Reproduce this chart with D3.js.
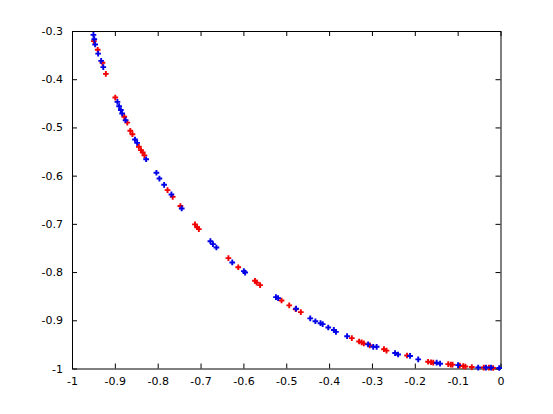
<!DOCTYPE html>
<html>
<head>
<meta charset="utf-8">
<script src="https://cdn.jsdelivr.net/npm/d3@7"></script>
<style>
  body { margin: 0; background: #fff; }
  svg { display: block; }
  text { font-family: "DejaVu Sans", sans-serif; font-size: 10px; fill: #000; }
</style>
</head>
<body>
<div id="chart"></div>
<script>
// values
var redX = [-0.949,-0.940,-0.929,-0.921,-0.899,-0.878,-0.871,-0.864,-0.859,-0.844,-0.839,-0.835,-0.831,
  -0.777,-0.765,-0.747,-0.713,-0.708,-0.704,-0.635,-0.612,-0.573,-0.569,-0.561,-0.511,-0.493,-0.478,-0.466,
  -0.347,-0.330,-0.324,-0.319,-0.305,-0.272,-0.266,-0.218,-0.169,-0.162,-0.157,-0.122,-0.116,-0.112,
  -0.095,-0.087,-0.082,-0.067,-0.039,-0.027,-0.017];
var redY = [-0.321,-0.339,-0.366,-0.389,-0.438,-0.478,-0.490,-0.507,-0.514,-0.540,-0.547,-0.552,-0.558,
  -0.630,-0.644,-0.663,-0.701,-0.707,-0.711,-0.771,-0.790,-0.818,-0.822,-0.827,-0.859,-0.869,-0.877,-0.883,
  -0.937,-0.944,-0.946,-0.948,-0.952,-0.960,-0.963,-0.973,-0.986,-0.987,-0.988,-0.991,-0.992,-0.992,
  -0.994,-0.995,-0.996,-0.997,-0.998,-0.998,-0.999];

var blueX = [-0.950,-0.948,-0.946,-0.939,-0.932,-0.927,-0.894,-0.890,-0.886,-0.883,-0.875,-0.853,-0.848,
  -0.827,-0.803,-0.796,-0.785,-0.768,-0.744,-0.677,-0.671,-0.663,-0.626,-0.599,-0.596,-0.524,-0.519,
  -0.477,-0.444,-0.432,-0.420,-0.415,-0.402,-0.389,-0.384,-0.358,-0.309,-0.297,-0.289,-0.246,-0.239,
  -0.211,-0.192,-0.149,-0.141,-0.099,-0.052,-0.034,-0.022,-0.003];
var blueY = [-0.308,-0.317,-0.328,-0.347,-0.362,-0.375,-0.447,-0.456,-0.464,-0.471,-0.485,-0.525,-0.532,
  -0.566,-0.594,-0.606,-0.619,-0.639,-0.668,-0.736,-0.742,-0.749,-0.780,-0.798,-0.801,-0.852,-0.854,
  -0.876,-0.896,-0.902,-0.906,-0.908,-0.915,-0.920,-0.924,-0.933,-0.950,-0.955,-0.955,-0.968,-0.971,
  -0.974,-0.981,-0.988,-0.990,-0.993,-0.998,-0.998,-0.998,-0.999];

var xTicks = [-1,-0.9,-0.8,-0.7,-0.6,-0.5,-0.4,-0.3,-0.2,-0.1,0];
var xTickLabels = ["-1","-0.9","-0.8","-0.7","-0.6","-0.5","-0.4","-0.3","-0.2","-0.1","0"];
var yTicks = [-1,-0.9,-0.8,-0.7,-0.6,-0.5,-0.4,-0.3];
var yTickLabels = ["-1","-0.9","-0.8","-0.7","-0.6","-0.5","-0.4","-0.3"];

var w = 553, h = 414;
// plot box (top/left are taken names on window, so use own ones)
var boxL = 72, boxR = 500.5, boxT = 31, boxB = 368.5;

var svg = d3.select("#chart").append("svg")
  .attr("width", w)
  .attr("height", h);

var x = d3.scaleLinear().domain([-1, 0]).range([boxL, boxR]);
var y = d3.scaleLinear().domain([-1, -0.3]).range([boxB, boxT]);

// axes, ticks pointing inward like matlab
svg.append("g").attr("transform", "translate(0," + boxB + ")")
  .call(d3.axisBottom(x).tickValues(xTicks).tickSizeInner(-5).tickSizeOuter(0)
    .tickFormat((d, i) => xTickLabels[i]).tickPadding(9));
svg.append("g").attr("transform", "translate(0," + boxT + ")")
  .call(d3.axisTop(x).tickValues(xTicks).tickSizeInner(-5).tickSizeOuter(0).tickFormat(""));
svg.append("g").attr("transform", "translate(" + boxL + ",0)")
  .call(d3.axisLeft(y).tickValues(yTicks).tickSizeInner(-5).tickSizeOuter(0)
    .tickFormat((d, i) => yTickLabels[i]).tickPadding(9));
svg.append("g").attr("transform", "translate(" + boxR + ",0)")
  .call(d3.axisRight(y).tickValues(yTicks).tickSizeInner(-5).tickSizeOuter(0).tickFormat(""));

svg.selectAll(".domain").attr("stroke", "#000");
svg.selectAll(".tick line").attr("stroke", "#000");
svg.selectAll(".tick text").style("font-family", "DejaVu Sans, sans-serif").style("font-size", "11px");

var cross = d3.symbol().type(d3.symbolCross).size(18);

function drawSeries(xs, ys, color) {
  svg.append("g")
    .selectAll("path")
    .data(xs.map((v, i) => ({x: v, y: ys[i]})))
    .enter()
    .append("path")
    .attr("d", cross)
    .attr("transform", d => "translate(" + x(d.x) + "," + y(d.y) + ")")
    .attr("fill", color);
}

drawSeries(redX, redY, "#f00000");
drawSeries(blueX, blueY, "#0000e8");
</script>
</body>
</html>
